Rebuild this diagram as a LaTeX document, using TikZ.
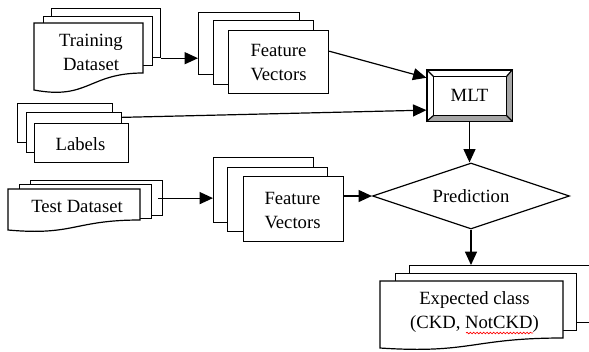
\documentclass[tikz,border=0pt]{standalone}
\usepackage{fontspec}
\setmainfont{Liberation Serif}
\usetikzlibrary{arrows.meta,shapes.geometric,calc,decorations.pathmorphing}
% rectangle layer given by corners: name, L, T, R, B (pixels)
\newcommand\laybox[5]{\node[layer, anchor=north west, minimum width={(#4-#2)*0.75pt}, minimum height={(#5-#3)*0.75pt}] (#1) at (#2,#3) {};}
% document shape: name, L, T, R, left-bottom y, right-bottom y
\newcommand\docshape[6]{%
  \path[docline] (#2,#3) -- (#4,#3) -- (#4,#6) .. controls ({(#2+#4)/2},#6) and ({(#2+#4)/2},{#5+0.6*(#5-#6)}) .. (#2,#5) -- cycle;
  \coordinate (#1) at ({(#2+#4)/2},{(#3+#5)/2});}
\begin{document}
\begin{tikzpicture}[x=0.75pt,y=-0.75pt,
  lw/.style={line width=0.9pt},
  layer/.style={draw, fill=white, lw, inner sep=0pt, rectangle},
  docline/.style={draw, fill=white, lw, line join=miter},
  lbl/.style={font=\fontsize{14}{18}\selectfont, align=center, inner sep=0pt},
  arr/.style={lw, -{Triangle[length=10pt,width=9pt]}}]
\useasboundingbox (0,0) rectangle (589,351);
\clip (0,0) rectangle (589,351);

% Training dataset
\laybox{td3}{51}{8}{160}{57}
\laybox{td2}{43}{16}{152}{65}
\docshape{td1}{34}{23}{143}{90}{73}
\node[lbl] (td) at (91,52.2) {Training\\Dataset};

% Feature vectors (top)
\laybox{fv13}{198}{12}{299}{74}
\laybox{fv12}{213}{20}{313}{84}
\laybox{fv11}{228}{30}{328}{93}
\node[lbl] (fv1) at (278.5,62.8) {Feature\\Vectors};

% Labels
\laybox{lb3}{17}{103}{112}{142}
\laybox{lb2}{26}{112}{121}{152}
\laybox{lb1}{34}{123}{128}{162}
\node[lbl, anchor=base] (lb) at (80.5,150) {Labels};

% Test dataset
\laybox{ts3}{30}{180}{162}{215}
\laybox{ts2}{19}{184}{151}{218}
\docshape{ts1}{8}{189}{140}{230}{220}
\node[lbl, anchor=base] (ts) at (77,212) {Test Dataset};

% Feature vectors (bottom)
\laybox{fv23}{213}{157}{313}{222}
\laybox{fv22}{227}{167}{327}{231}
\laybox{fv21}{243}{176}{343}{241}
\node[lbl] (fv2) at (292.5,210.3) {Feature\\Vectors};

% Expected class
\laybox{ec3}{409}{265}{620}{322}
\laybox{ec2}{395}{273}{576}{330}
\docshape{ec1}{380}{281}{563}{348}{338}
\node[lbl] (ec) at (474.5,311.8) {Expected class\\(CKD, NotCKD)};
\draw[red, line width=0.5pt, decorate, decoration={snake, amplitude=0.6pt, segment length=2.5pt}] (466,333) -- (533,333);

% MLT bevel box
\node[draw, lw, minimum width={85*0.75pt}, minimum height={51*0.75pt}, lbl] (mlt) at (469.5,95.5) {MLT};
\coordinate (mi1) at ($(mlt.north west)+(7,7)$);
\coordinate (mi2) at ($(mlt.north east)+(-6,7)$);
\coordinate (mi3) at ($(mlt.south east)+(-6,-6)$);
\coordinate (mi4) at ($(mlt.south west)+(7,-6)$);
\fill[gray!70] (mlt.north east) -- (mlt.south east) -- (mlt.south west) -- (mi4) -- (mi3) -- (mi2) -- cycle;
\draw[lw] (mi1) rectangle (mi3);
\draw[lw] (mlt.north west) -- (mi1) (mlt.north east) -- (mi2) (mlt.south east) -- (mi3) (mlt.south west) -- (mi4);
\draw[lw] (mlt.north west) rectangle (mlt.south east);

% Prediction
\node[diamond, draw, lw, aspect=3, minimum width={197*0.75pt}, minimum height={66*0.75pt}, lbl] (pred) at (471,196) {Prediction};

% Connectors
\draw[arr] (td3.south east) -- (td3.south east -| fv13.west);
\draw[arr] ($(fv11.north east)!0.33!(fv11.south east)$) -- ($(mlt.north west)!0.16!(mlt.south west)$);
\draw[arr] ($(lb2.north east)!0.13!(lb2.south east)$) -- ($(mlt.north west)!0.78!(mlt.south west)$);
\draw[arr] (mlt.south) -- (mlt.south |- pred.north);
\draw[arr] ($(ts3.east)+(-5,0)$) -- (ts3.east -| fv23.west);
\draw[arr] (pred.west -| fv21.east) -- (pred.west);
\draw[arr] (pred.south) -- (pred.south |- ec3.north);
\end{tikzpicture}
\end{document}
